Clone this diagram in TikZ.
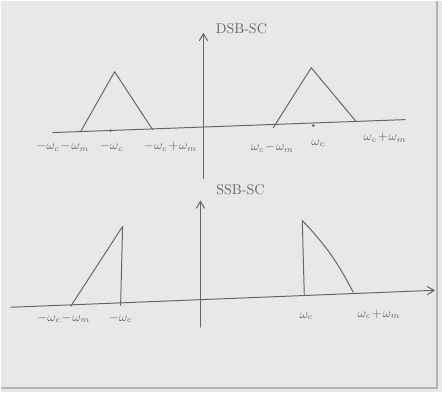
\documentclass[tikz,border=0pt]{standalone}
\usepackage{amsmath,amssymb}
\usepackage{tikz}
\usetikzlibrary{arrows.meta,positioning}
\definecolor{paperGray}{HTML}{E8E8E6}
\definecolor{pencilGray}{HTML}{666666}
\definecolor{frameGray}{HTML}{B4B4B2}

\begin{document}
\begin{tikzpicture}[x=0.025cm,y=-0.025cm,font=\small,
    pen/.style={draw=pencilGray,line width=0.7pt,line cap=round,line join=round},
    axisarrow/.style={pen,-{Straight Barb[length=5pt,width=6pt]}},
    lbl/.style={text=pencilGray,inner sep=1pt},
    tickdot/.style={circle,fill=pencilGray,inner sep=0pt,minimum size=2pt}]
  % paper
  \fill[paperGray] (0,0) rectangle (442,392);
  \draw[frameGray,line width=1.2pt] (437,0) -- (437,388) -- (0,388);
  \useasboundingbox (0,0) rectangle (442,392);

  % DSB-SC spectrum
  \coordinate (dsbL) at (52,132);
  \coordinate (dsbR) at (405,119);
  \coordinate (dsbBot) at (203,178);
  \coordinate (dsbTop) at (203,32);
  \coordinate (la) at (80,131);
  \coordinate (lp) at (114,71);
  \coordinate (lb) at (152,129);
  \coordinate (ra) at (273,127);
  \coordinate (rp) at (311,67);
  \coordinate (rb) at (356,121);
  \draw[pen] (dsbL) -- (dsbR);
  \draw[axisarrow] (dsbBot) -- (dsbTop);
  \draw[pen] (la) -- (lp) -- (lb);
  \draw[pen] (ra) -- (rp) -- (rb);
  \node[tickdot] (lc) at (110,130) {};
  \node[tickdot] (rc) at (313,125) {};
  \node[lbl,font=\normalsize] (dsb) at (241,28) {DSB-SC};
  \node[lbl] (la lbl) at (62,146) {$-\omega_c\!-\!\omega_m$};
  \node[lbl] (lc lbl) at (111,146) {$-\omega_c$};
  \node[lbl] (lb lbl) at (170,146) {$-\omega_c\!+\!\omega_m$};
  \node[lbl] (ra lbl) at (272,147) {$\omega_c\!-\!\omega_m$};
  \node[lbl] (rc lbl) at (318,143) {$\omega_c$};
  \node[lbl] (rb lbl) at (385,137) {$\omega_c\!+\!\omega_m$};

  % SSB-SC spectrum
  \coordinate (ssbL) at (10,307);
  \coordinate (ssbR) at (435,290);
  \coordinate (ssbBot) at (200,327);
  \coordinate (ssbTop) at (200,200);
  \coordinate (sa) at (70,306);
  \coordinate (sp) at (122,226);
  \coordinate (sb) at (120,305);
  \coordinate (ta) at (304,294);
  \coordinate (tp) at (302,220);
  \coordinate (tb) at (353,292);
  \draw[axisarrow] (ssbL) -- (ssbR);
  \draw[axisarrow] (ssbBot) -- (ssbTop);
  \draw[pen] (sa) -- (sp) -- (sb);
  \draw[pen] (ta) -- (tp) to[bend left=8] (tb);
  \node[lbl,font=\normalsize] (ssb) at (240,189) {SSB-SC};
  \node[lbl] (sa lbl) at (63,318) {$-\omega_c\!-\!\omega_m$};
  \node[lbl] (sb lbl) at (120,318) {$-\omega_c$};
  \node[lbl] (ta lbl) at (306,316) {$\omega_c$};
  \node[lbl] (tb lbl) at (379,314) {$\omega_c\!+\!\omega_m$};
\end{tikzpicture}
\end{document}
